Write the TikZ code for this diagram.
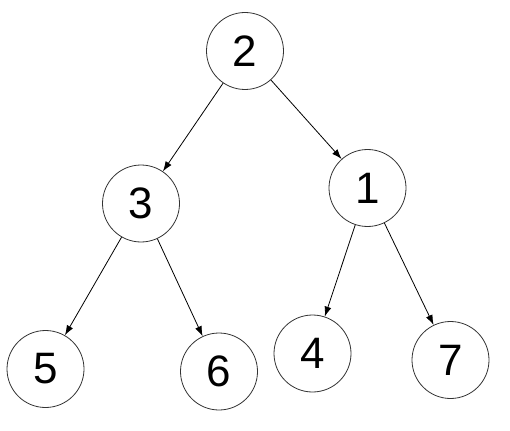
\documentclass[tikz,border=0pt]{standalone}
\usepackage{fontspec}
\setmainfont{Liberation Sans}
\usetikzlibrary{arrows.meta}
\begin{document}
\begin{tikzpicture}[x=1pt,y=-1pt,
  vert/.style={circle,draw=black!80,line width=0.8pt,minimum size=77pt,inner sep=0pt,font=\fontsize{44}{44}\selectfont},
  edge/.style={draw=black,line width=0.8pt,-{Latex[length=10pt,width=7pt]}}]
\useasboundingbox (0,0) rectangle (510,430);
\node[vert] (n2) at (245,51) {2};
\node[vert] (n3) at (141,203.5) {3};
\node[vert] (n1) at (367.5,188) {1};
\node[vert] (n5) at (45.5,369) {5};
\node[vert] (n6) at (219,371.5) {6};
\node[vert] (n4) at (312.5,353.5) {4};
\node[vert] (n7) at (450.5,360) {7};
\draw[edge] (n2) -- (n3);
\draw[edge] (n2) -- (n1);
\draw[edge] (n3) -- (n5);
\draw[edge] (n3) -- (n6);
\draw[edge] (n1) -- (n4);
\draw[edge] (n1) -- (n7);
\end{tikzpicture}
\end{document}
